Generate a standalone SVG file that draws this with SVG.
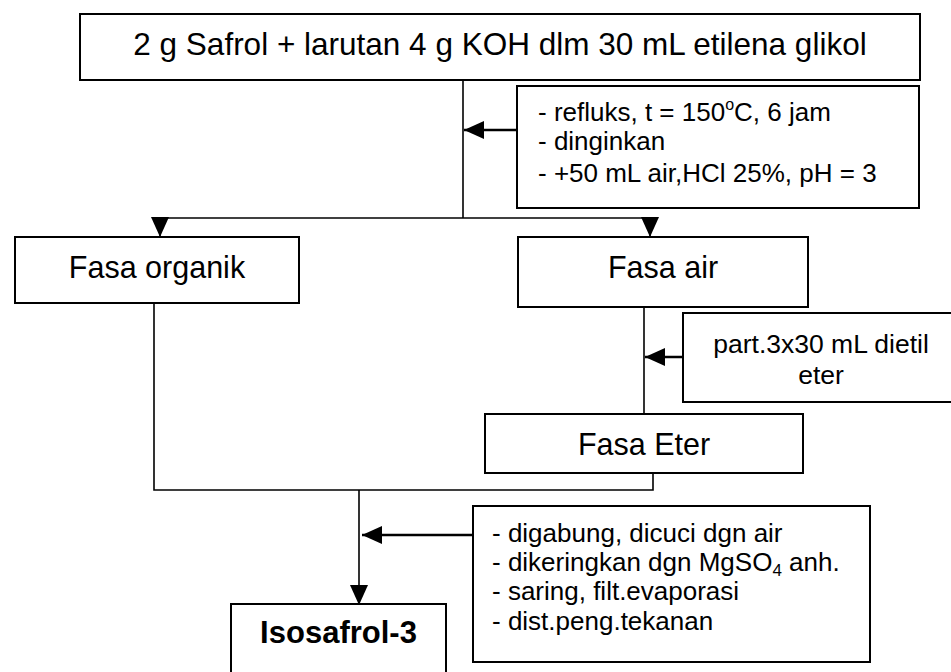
<svg xmlns="http://www.w3.org/2000/svg" width="951" height="672" viewBox="0 0 951 672">
<style>
.box{fill:#fff;stroke:#000;stroke-width:2}
.t{font-family:"Liberation Sans",Arial,sans-serif;fill:#000}
.c{fill:none;stroke:#000;stroke-width:1.6}
.ca{fill:none;stroke:#000;stroke-width:2.6}
</style>
<defs>
<marker id="ah" markerUnits="userSpaceOnUse" markerWidth="22" markerHeight="20" refX="20" refY="9" orient="auto" viewBox="0 0 22 20">
<path d="M0,0 L20,9 L0,18 z" fill="#000"/>
</marker>
</defs>
<rect width="951" height="672" fill="#fff"/>
<g id="connectors">
<path class="c" d="M463,80 V218"/>
<path class="c" d="M160,218 H650"/>
<path class="c" d="M160,218 V237" marker-end="url(#ah)"/>
<path class="c" d="M650,218 V237" marker-end="url(#ah)"/>
<path class="ca" d="M517,130 H464" marker-end="url(#ah)"/>
<path class="c" d="M644,307 V414"/>
<path class="ca" d="M683,357 H645" marker-end="url(#ah)"/>
<path class="c" d="M154,303 V490 H653 V474"/>
<path class="c" d="M359,490 V605" marker-end="url(#ah)"/>
<path class="ca" d="M473,535 H362" marker-end="url(#ah)"/>
</g>
<g id="start">
<rect class="box" x="80" y="14" width="840" height="66"/>
<text class="t" x="500" y="55" font-size="31.5" text-anchor="middle">2 g Safrol + larutan 4 g KOH dlm 30 mL etilena glikol</text>
</g>
<g id="cond1">
<rect class="box" x="517" y="86" width="402" height="122"/>
<text class="t" font-size="26" x="538" y="121">- refluks, t = 150<tspan font-size="16" dy="-11">o</tspan><tspan dy="11">C, 6 jam</tspan></text>
<text class="t" font-size="26" x="538" y="150">- dinginkan</text>
<text class="t" font-size="26" x="538" y="182">- +50 mL air,HCl 25%, pH = 3</text>
</g>
<g id="organik">
<rect class="box" x="15" y="237" width="284" height="66"/>
<text class="t" x="157" y="278" font-size="30.5" text-anchor="middle">Fasa organik</text>
</g>
<g id="air">
<rect class="box" x="518" y="237" width="290" height="70"/>
<text class="t" x="663" y="278" font-size="30.5" text-anchor="middle">Fasa air</text>
</g>
<g id="cond2">
<rect class="box" x="683" y="313" width="290" height="89"/>
<text class="t" x="821" y="353" font-size="26.5" text-anchor="middle">part.3x30 mL dietil</text>
<text class="t" x="821" y="384" font-size="26.5" text-anchor="middle">eter</text>
</g>
<g id="eter">
<rect class="box" x="485" y="414" width="318" height="59"/>
<text class="t" x="644" y="455" font-size="30.5" text-anchor="middle">Fasa Eter</text>
</g>
<g id="cond3">
<rect class="box" x="473" y="506" width="397" height="156"/>
<text class="t" font-size="26" x="492" y="542">- digabung, dicuci dgn air</text>
<text class="t" font-size="26" x="492" y="571">- dikeringkan dgn MgSO<tspan font-size="17" dy="5">4</tspan><tspan dy="-5"> anh.</tspan></text>
<text class="t" font-size="26" x="492" y="600">- saring, filt.evaporasi</text>
<text class="t" font-size="26" x="492" y="630">- dist.peng.tekanan</text>
</g>
<g id="isosafrol">
<rect class="box" x="231" y="604" width="215" height="80"/>
<text class="t" x="338.5" y="643" font-size="31" font-weight="bold" text-anchor="middle">Isosafrol-3</text>
</g>
</svg>
